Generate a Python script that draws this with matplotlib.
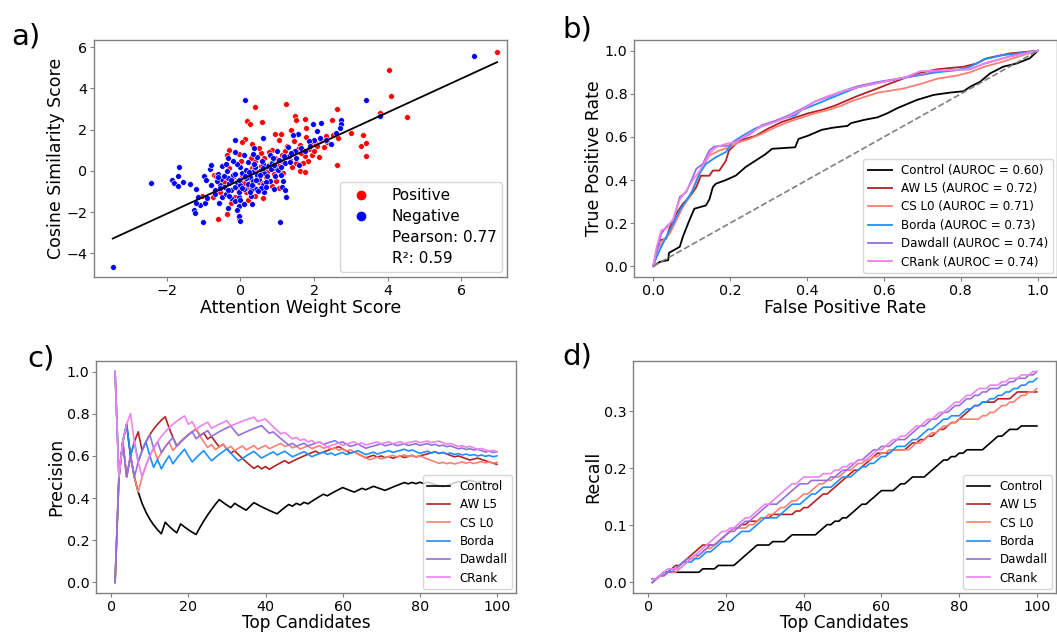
import numpy as np
import matplotlib
matplotlib.use("Agg")
from matplotlib import pyplot as plt
from matplotlib.lines import Line2D

# ---------- a) scatter data ----------
pos_x = [6.97, 4.03, 4.08, 4.53, 3.78, 3.01, 3.33, 3.27, 3.40, 3.40, 2.61, 2.61, 2.49, 2.33,
         0.40, 1.24, 1.49, 1.52, 1.75, 0.18, 0.25, 0.58, 1.11, 1.04, 1.38, 1.77, 1.79, 1.45,
         1.74, 1.83, 1.61, 1.74, 1.58, 1.93, 2.04, 2.13, 0.11, 0.04, 0.30, -0.32, -0.36, 0.02,
         -0.72, -0.66, -0.75, -0.61, -0.36, -0.27, -0.04, -1.04, 0.57, 0.97, 1.13, 0.86, 0.39,
         2.27, 2.20, 2.07, 0.97, 0.70, 1.20, 1.45, 1.62, 1.85, 1.95, 1.30, 0.80, 0.60, 0.45,
         0.25, 0.10, 0.35, 0.15, -0.10, 0.50, 0.75, 1.05, 0.90, 1.15, 0.65, -0.20, -0.45, 0.05,
         0.30, 1.40, 1.70, 1.25, 0.55, 2.00, 2.35, -0.05, 0.20, 0.40, -0.55, 0.85, -0.30, 1.55,
         0.95, 2.50, 2.65, 0.15, 0.35, 0.55, 0.72, 0.95, 0.18, 0.45, 0.62, 0.85, 1.12, 1.35,
         0.00, -0.15, 0.60, 1.05, 0.28, 1.50, 1.65, 0.78, 0.50]
pos_y = [5.78, 4.91, 3.65, 2.62, 2.81, 1.84, 1.74, 1.23, 1.36, 0.71, 0.29, 3.00, 2.49, 1.71,
         3.12, 3.23, 2.68, 2.47, 2.52, 2.44, 2.26, 2.36, 1.78, 1.49, 1.97, 2.07, 1.62, 1.45,
         0.73, 0.48, -0.03, -0.06, 0.32, 1.42, 1.29, 0.68, 1.55, 1.42, 1.32, 1.03, 0.78, 0.48,
         -0.19, -0.23, -1.26, -2.33, -2.07, -1.55, -2.29, -1.23, -0.90, 0.55, 0.78, 1.00, 0.48,
         1.16, 1.50, 1.20, -0.48, -0.30, 0.95, 0.90, 1.25, 1.05, 0.75, 0.65, 0.35, 0.10, -0.05,
         -0.40, -0.60, -0.75, -1.05, -0.85, -0.55, 0.10, 0.25, -0.15, -0.10, 0.60, -0.30, -0.55,
         -0.20, 0.15, 0.20, 0.40, 1.20, 0.85, 0.95, 1.40, 0.80, -1.40, -1.20, -1.05, -0.75, 0.15,
         1.05, 1.80, 1.75, 1.60, -0.15, 0.00, 0.25, -0.05, 0.60, -0.85, -0.35, -0.60, 0.45, 0.50,
         0.55, -0.50, -1.25, -1.30, -0.85, 0.60, 0.40, 0.85, 0.90, 1.10]

neg_x = [6.34, -3.47, -2.42, -1.86, -1.81, -1.68, -1.70, -1.70, -1.56, -1.36, -1.20, -1.16,
         -1.27, -1.23, -1.09, -1.02, -0.97, -1.00, -0.84, -0.79, -0.70, -0.57, -0.53, -0.50,
         -0.38, -0.34, -0.14, -0.16, 0.13, 0.36, 0.61, 1.07, 1.24, 1.13, 3.42, 3.78, 2.72, 2.72,
         2.69, 2.20, 2.09, 1.97, 2.33, 2.01, 1.85, 1.56, 1.43, 1.65, 1.47, 1.29, -0.04, -0.04,
         -0.02, -0.34, -0.05, 0.29, 0.43, 0.79, 1.15, 1.31, 1.20, -0.58, -0.90, -1.20, -0.40,
         -0.25, -0.15, -0.10, 0.00, 0.10, 0.20, 0.25, 0.35, 0.45, 0.55, 0.65, 0.75, 0.85, 0.95,
         1.05, -0.30, -0.20, -0.45, 0.05, 0.15, 0.30, 0.40, 0.50, 0.60, 0.70, -0.65, -0.60, 0.00,
         0.20, 0.80, 1.00, 1.10, 1.35, 1.50, 1.75, 1.90, 2.15, 2.45, 0.45, -0.10, -0.25, -0.15,
         0.10, 0.65, 0.90, -0.80, -0.95, 1.20, 0.35, 0.95, -0.35, 0.15, 0.55, -0.05, 0.28, 1.60,
         0.60, -0.50, 2.60, -0.45, -0.35, -0.25, -0.15, -0.05, 0.05, 0.12, 0.22, 0.32, 0.42,
         0.52, 0.62, 0.72, 0.82, 0.92, 1.02, -0.55, -0.30, 0.00, 0.25, 0.48, 0.70, -0.70, -0.62,
         0.38, 0.58, 0.88, 1.18, 1.38, 1.10, -0.20, 0.10, -0.40, -0.10, 0.30]
neg_y = [5.56, -4.65, -0.58, -0.42, -0.58, 0.19, -0.26, -0.74, -0.55, -0.65, -0.87, -1.29,
         -1.91, -2.04, -1.65, -2.49, -1.58, -0.23, 0.10, 0.26, -0.95, -0.68, -0.39, -1.29,
         0.00, 0.61, 1.52, 0.90, 3.42, 1.13, 1.58, -2.49, -1.29, -0.78, 3.42, 2.68, 2.49, 2.29,
         2.10, 2.33, 1.94, 2.29, 1.49, 1.52, 1.45, 1.81, 1.74, 1.13, 0.97, 1.16, -1.26, -2.20,
         -2.43, -1.81, -1.71, -1.21, -0.87, -0.48, -0.48, 0.71, 0.36, -1.55, -1.30, -1.55, -1.10,
         -0.95, -0.80, -0.55, -0.70, -0.90, -0.65, -0.30, -0.50, -0.20, 0.05, -0.10, 0.25, 0.40,
         0.15, 0.55, -0.60, -0.20, -0.80, -0.10, -0.35, -0.05, 0.20, -0.40, -0.70, -0.55, -0.50,
         -0.15, 0.20, 0.45, 0.75, 0.95, -0.20, 0.45, 0.60, 0.95, 1.20, 1.60, 1.30, 0.65, 0.35,
         -1.30, -1.45, -1.60, -1.05, -0.90, -0.70, -0.45, -0.95, 0.80, -0.25, -0.35, 0.05, -0.85,
         -1.05, -0.95, 0.30, 0.35, 0.25, 1.85, -0.25, -0.95, -0.45, -0.15, -0.45, -0.85, -0.25,
         -0.05, -0.70, -0.45, -0.20, 0.15, -0.25, 0.10, 0.30, 0.05, -0.85, -1.20, -1.40, -1.05,
         -1.00, -0.80, -1.10, -0.30, 0.35, 0.50, 0.60, 0.70, 0.85, 0.20, 0.50, 0.75, 0.35,
         -1.90, -1.60]

fit_slope = 0.82
fit_intercept = -0.44
pearson = 0.77
r_squared = 0.59

# ---------- b) ROC curves ----------
methods = ["Control", "AW L5", "CS L0", "Borda", "Dawdall", "CRank"]
colors = ["black", "firebrick", "salmon", "dodgerblue", "mediumpurple", "violet"]
aurocs = [0.60, 0.72, 0.71, 0.73, 0.74, 0.74]

roc_control = [(0, 0), (0.017, 0.02), (0.039, 0.028), (0.041, 0.062), (0.069, 0.09), (0.077, 0.136),
               (0.094, 0.213), (0.107, 0.267), (0.137, 0.282), (0.146, 0.31), (0.155, 0.367),
               (0.163, 0.383), (0.189, 0.40), (0.215, 0.421), (0.24, 0.46), (0.266, 0.49),
               (0.292, 0.52), (0.309, 0.545), (0.369, 0.552), (0.378, 0.591), (0.403, 0.606),
               (0.438, 0.633), (0.464, 0.642), (0.489, 0.648), (0.505, 0.651), (0.514, 0.664),
               (0.548, 0.679), (0.583, 0.691), (0.609, 0.71), (0.634, 0.733), (0.686, 0.772),
               (0.729, 0.795), (0.772, 0.806), (0.807, 0.812), (0.824, 0.833), (0.85, 0.856),
               (0.876, 0.895), (0.91, 0.926), (0.945, 0.941), (0.979, 0.965), (1, 1)]
roc_aw = [(0, 0), (0.007, 0.059), (0.017, 0.12), (0.034, 0.128), (0.043, 0.18), (0.06, 0.244),
          (0.077, 0.29), (0.094, 0.32), (0.112, 0.367), (0.124, 0.42), (0.146, 0.42), (0.155, 0.444),
          (0.172, 0.444), (0.189, 0.49), (0.197, 0.537), (0.215, 0.568), (0.223, 0.583),
          (0.266, 0.605), (0.3, 0.64), (0.335, 0.67), (0.369, 0.69), (0.403, 0.71), (0.438, 0.725),
          (0.472, 0.745), (0.498, 0.765), (0.531, 0.79), (0.583, 0.825), (0.617, 0.849),
          (0.686, 0.895), (0.738, 0.914), (0.807, 0.926), (0.841, 0.941), (0.867, 0.965),
          (0.928, 0.988), (0.97, 0.995), (1, 1)]
roc_cs = [(0, 0), (0.009, 0.074), (0.026, 0.12), (0.043, 0.151), (0.06, 0.213), (0.077, 0.275),
          (0.094, 0.32), (0.112, 0.398), (0.129, 0.46), (0.146, 0.514), (0.172, 0.537),
          (0.197, 0.552), (0.223, 0.575), (0.249, 0.59), (0.283, 0.615), (0.318, 0.645),
          (0.352, 0.67), (0.386, 0.69), (0.421, 0.71), (0.455, 0.725), (0.489, 0.745),
          (0.514, 0.765), (0.548, 0.785), (0.583, 0.805), (0.652, 0.825), (0.703, 0.85),
          (0.738, 0.87), (0.79, 0.885), (0.824, 0.9), (0.859, 0.925), (0.91, 0.95), (0.962, 0.98), (1, 1)]
roc_borda = [(0, 0), (0.009, 0.043), (0.021, 0.09), (0.034, 0.136), (0.052, 0.198), (0.069, 0.259),
             (0.086, 0.306), (0.103, 0.352), (0.12, 0.429), (0.137, 0.475), (0.163, 0.506),
             (0.189, 0.53), (0.206, 0.575), (0.232, 0.605), (0.266, 0.64), (0.3, 0.66),
             (0.335, 0.685), (0.369, 0.7), (0.386, 0.725), (0.421, 0.75), (0.455, 0.775),
             (0.489, 0.8), (0.531, 0.83), (0.583, 0.85), (0.652, 0.875), (0.703, 0.89),
             (0.738, 0.9), (0.79, 0.91), (0.824, 0.926), (0.841, 0.941), (0.86, 0.96),
             (0.91, 0.98), (0.96, 0.99), (1, 1)]
roc_dawdall = [(0, 0), (0.009, 0.059), (0.021, 0.151), (0.034, 0.182), (0.052, 0.213), (0.069, 0.321),
               (0.086, 0.344), (0.103, 0.414), (0.112, 0.452), (0.129, 0.475), (0.146, 0.537),
               (0.159, 0.556), (0.197, 0.56), (0.215, 0.583), (0.249, 0.61), (0.283, 0.655),
               (0.318, 0.675), (0.352, 0.7), (0.386, 0.73), (0.421, 0.765), (0.455, 0.785),
               (0.489, 0.81), (0.531, 0.835), (0.583, 0.855), (0.652, 0.875), (0.703, 0.89),
               (0.738, 0.905), (0.79, 0.912), (0.824, 0.914), (0.86, 0.94), (0.9, 0.96),
               (0.95, 0.985), (1, 1)]
roc_crank = [(0, 0), (0.009, 0.09), (0.021, 0.167), (0.034, 0.175), (0.052, 0.22), (0.069, 0.31),
             (0.086, 0.35), (0.103, 0.4), (0.12, 0.44), (0.146, 0.522), (0.163, 0.552),
             (0.189, 0.568), (0.215, 0.576), (0.249, 0.615), (0.283, 0.65), (0.318, 0.67),
             (0.352, 0.695), (0.386, 0.725), (0.421, 0.765), (0.455, 0.79), (0.489, 0.81),
             (0.531, 0.83), (0.583, 0.85), (0.652, 0.875), (0.695, 0.905), (0.824, 0.914),
             (0.86, 0.94), (0.91, 0.965), (0.96, 0.985), (1, 1)]
roc_curves = [roc_control, roc_aw, roc_cs, roc_borda, roc_dawdall, roc_crank]

# ---------- c/d) ranks (1..100) at which a true positive was retrieved ----------
n_top = 100
n_positives = 168
hits_control = [2, 3, 4, 14, 18, 23, 24, 25, 26, 27, 28, 32, 36, 37, 44, 45, 46, 48, 50, 52, 53, 54,
                55, 57, 58, 59, 60, 64, 65, 67, 68, 72, 73, 74, 75, 76, 78, 80, 82, 87, 88, 89,
                90, 92, 93, 96]
hits_aw = [1, 3, 5, 6, 7, 9, 10, 11, 12, 13, 14, 18, 19, 20, 21, 22, 24, 26, 29, 32, 38, 40, 42,
           43, 44, 45, 47, 48, 49, 50, 51, 52, 53, 55, 56, 57, 58, 59, 63, 67, 68, 70, 72, 74, 75,
           77, 78, 80, 81, 82, 83, 84, 86, 90, 94, 95]
hits_cs = [2, 3, 5, 8, 9, 10, 11, 13, 14, 15, 17, 18, 19, 20, 21, 22, 26, 28, 29, 31, 33, 34, 36,
           37, 39, 40, 42, 43, 44, 46, 48, 50, 51, 53, 54, 56, 58, 60, 62, 68, 69, 71, 72, 73, 75,
           76, 78, 80, 86, 88, 90, 91, 93, 95, 96, 98, 100]
hits_borda = [1, 3, 4, 6, 8, 9, 12, 14, 15, 17, 18, 19, 22, 23, 24, 27, 28, 29, 30, 34, 35, 36, 37,
              40, 41, 42, 44, 45, 48, 49, 50, 53, 54, 55, 57, 59, 60, 62, 63, 64, 67, 68, 70, 71,
              72, 74, 75, 76, 78, 81, 82, 84, 86, 88, 90, 92, 94, 96, 98, 100]
hits_dawdall = [2, 3, 5, 7, 8, 9, 10, 12, 14, 15, 16, 18, 19, 20, 21, 23, 24, 25, 27, 28, 29, 30,
                31, 34, 35, 36, 37, 38, 39, 42, 47, 49, 50, 52, 53, 54, 56, 57, 58, 60, 63, 64, 67,
                68, 69, 70, 72, 73, 75, 76, 78, 79, 81, 82, 84, 86, 88, 91, 93, 95, 98, 100]
hits_crank = [1, 3, 4, 5, 9, 10, 11, 12, 13, 14, 15, 16, 17, 18, 19, 21, 23, 24, 25, 27, 28, 29,
              30, 32, 33, 34, 35, 36, 37, 39, 40, 45, 48, 50, 52, 54, 57, 58, 59, 61, 62, 63, 65,
              67, 68, 69, 71, 72, 74, 75, 77, 78, 79, 81, 82, 84, 85, 88, 91, 93, 96, 99]
hit_lists = [hits_control, hits_aw, hits_cs, hits_borda, hits_dawdall, hits_crank]

spine_color = "#808080"


def style_axes(ax):
    for s in ax.spines.values():
        s.set_color(spine_color)
        s.set_linewidth(1.0)
    ax.tick_params(labelsize=10.3, color=spine_color, length=2.8, pad=2)


fig = plt.figure(figsize=(10.57, 6.36), dpi=100)

# a) scatter
ax_a = fig.add_axes([0.0889, 0.5645, 0.3908, 0.3726])
ax_a.scatter(pos_x, pos_y, s=17, c="red", edgecolors="white", linewidths=0.4, zorder=3)
ax_a.scatter(neg_x, neg_y, s=17, c="blue", edgecolors="white", linewidths=0.4, zorder=3)
all_x = np.array(pos_x + neg_x)
line_x = np.array([all_x.min(), all_x.max()])
ax_a.plot(line_x, fit_slope * line_x + fit_intercept, color="black", lw=1.3, zorder=4)
ax_a.set_xlim(-3.98, 7.24)
ax_a.set_ylim(-5.15, 6.35)
ax_a.set_xticks([-2, 0, 2, 4, 6])
ax_a.set_yticks([-4, -2, 0, 2, 4, 6])
ax_a.set_xlabel("Attention Weight Score", fontsize=12.5, labelpad=1)
ax_a.set_ylabel("Cosine Similarity Score", fontsize=12.5, labelpad=1)
handles_a = [Line2D([], [], marker="o", color="red", ls="none", markersize=6),
             Line2D([], [], marker="o", color="blue", ls="none", markersize=6),
             Line2D([], [], ls="none"), Line2D([], [], ls="none")]
labels_a = ["Positive", "Negative", f"Pearson: {pearson:.2f}", f"R²: {r_squared:.2f}"]
ax_a.legend(handles_a, labels_a, loc="lower right", fontsize=11, handletextpad=1.0,
            borderaxespad=0.3, labelspacing=0.4)
style_axes(ax_a)

# b) ROC
ax_b = fig.add_axes([0.5998, 0.5645, 0.4002, 0.3726])
for name, col, auc, curve in zip(methods, colors, aurocs, roc_curves):
    fpr = [p[0] for p in curve]
    tpr = [p[1] for p in curve]
    ax_b.plot(fpr, tpr, color=col, lw=1.3, label=f"{name} (AUROC = {auc:.2f})")
ax_b.plot([0, 1], [0, 1], color="gray", ls="--", lw=1.2)
ax_b.set_xlim(-0.05, 1.05)
ax_b.set_ylim(-0.05, 1.05)
ax_b.set_xlabel("False Positive Rate", fontsize=12.5, labelpad=1)
ax_b.set_ylabel("True Positive Rate", fontsize=12.5, labelpad=1)
ax_b.legend(loc="lower right", fontsize=8.6, borderaxespad=0.3, labelspacing=0.45)
style_axes(ax_b)

# c) precision and d) recall
k = np.arange(1, n_top + 1)
ax_c = fig.add_axes([0.0908, 0.0676, 0.3974, 0.3648])
ax_d = fig.add_axes([0.5989, 0.0676, 0.4002, 0.3648])
for name, col, hits in zip(methods, colors, hit_lists):
    found = np.isin(k, hits).cumsum()
    ax_c.plot(k, found / k, color=col, lw=1.2, label=name)
    ax_d.plot(k, found / n_positives, color=col, lw=1.2, label=name)
for ax, ylab in [(ax_c, "Precision"), (ax_d, "Recall")]:
    ax.set_xlabel("Top Candidates", fontsize=12.2, labelpad=0)
    ax.set_ylabel(ylab, fontsize=12.5, labelpad=1)
    ax.set_xticks([0, 20, 40, 60, 80, 100])
    ax.legend(loc="lower right", fontsize=8.6, borderaxespad=0.3, labelspacing=0.45,
              handlelength=1.9)
    style_axes(ax)
ax_d.set_yticks([0.0, 0.1, 0.2, 0.3])

# panel letters
fig.text(0.011, 0.965, "a)", fontsize=21, va="top")
fig.text(0.532, 0.975, "b)", fontsize=21, va="top")
fig.text(0.026, 0.458, "c)", fontsize=21, va="top")
fig.text(0.532, 0.462, "d)", fontsize=21, va="top")

fig.savefig("out.png", dpi=100)
